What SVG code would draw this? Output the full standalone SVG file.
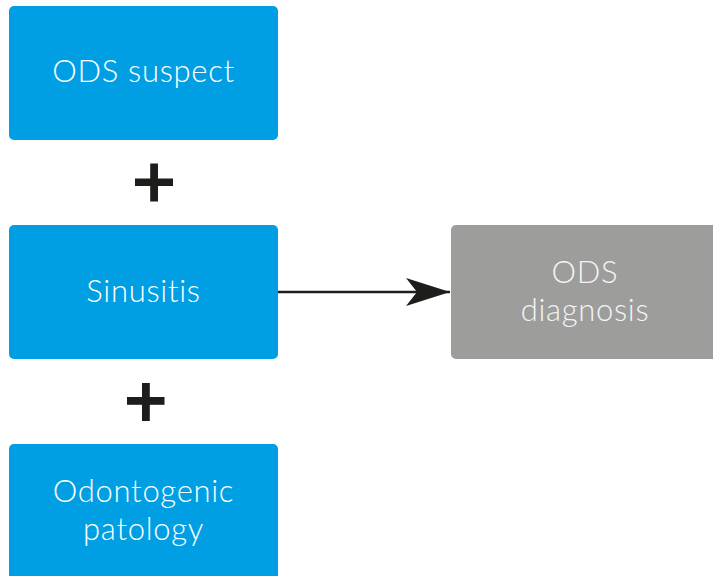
<svg xmlns="http://www.w3.org/2000/svg" width="713" height="576" viewBox="0 0 713 576">
<style>
.blue{fill:#009fe3}
.gray{fill:#9d9d9c}
.t{font-family:"Lato","Liberation Sans",sans-serif;font-size:31px;font-weight:300;letter-spacing:0.7px;text-anchor:middle;fill:#ffffff}
.tg{fill:#f4f4f4}
.plus{fill:#1d1d1b}
.edge{stroke:#1d1d1b;stroke-width:2.5;fill:none}
</style>
<defs>
<marker id="ah" markerUnits="userSpaceOnUse" markerWidth="46" markerHeight="30" refX="44" refY="14" orient="auto">
<path d="M0,0 L44,14 L0,28 L11,14 Z" fill="#1d1d1b"/>
</marker>
</defs>
<rect width="713" height="576" fill="#ffffff"/>
<g id="node-ods-suspect">
<rect class="blue" x="9" y="6" width="269" height="134" rx="5"/>
<text class="t" x="143.5" y="82">ODS suspect</text>
</g>
<g id="plus-1">
<rect class="plus" x="135" y="178.5" width="38" height="7.5"/>
<rect class="plus" x="150.2" y="163.5" width="7.8" height="38"/>
</g>
<g id="node-sinusitis">
<rect class="blue" x="9" y="225" width="269" height="134" rx="5"/>
<text class="t" x="143.5" y="302">Sinusitis</text>
</g>
<g id="plus-2">
<rect class="plus" x="127" y="397" width="37.5" height="7.8"/>
<rect class="plus" x="142" y="383" width="7.8" height="38"/>
</g>
<g id="node-odontogenic">
<rect class="blue" x="9" y="444" width="269" height="145" rx="5"/>
<text class="t" x="143.5" y="502">Odontogenic</text>
<text class="t" x="143.5" y="540">patology</text>
</g>
<g id="node-ods-diagnosis">
<rect class="gray" x="451" y="225" width="270" height="134" rx="5"/>
<text class="t tg" x="585" y="283">ODS</text>
<text class="t tg" x="585" y="321">diagnosis</text>
</g>
<g id="connectors">
<line class="edge" x1="278" y1="292" x2="450" y2="292" marker-end="url(#ah)"/>
</g>
</svg>
